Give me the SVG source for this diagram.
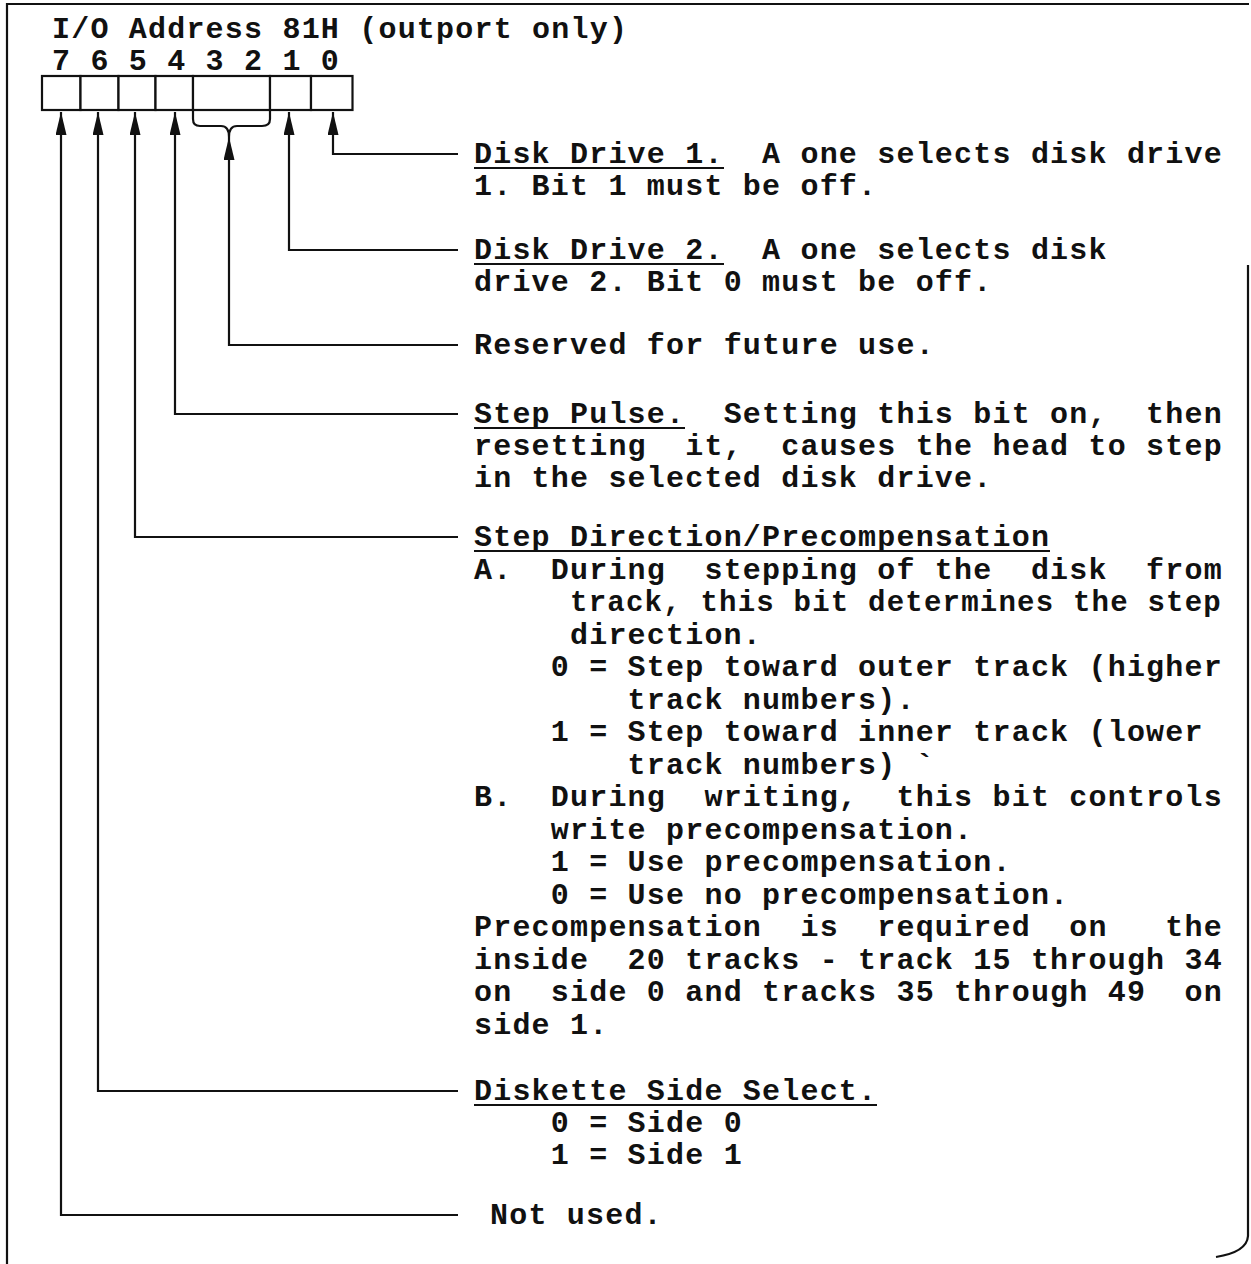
<svg xmlns="http://www.w3.org/2000/svg" width="1251" height="1264" viewBox="0 0 1251 1264">
<defs>
<style>
.t{font-family:"Liberation Mono","Courier New",monospace;font-size:30px;letter-spacing:1.2px;font-weight:bold;fill:#111;white-space:pre}
.ln{fill:none;stroke:#111;stroke-width:2.2}
.ul{stroke:#111;stroke-width:2}
.box{fill:#fff;stroke:#111;stroke-width:2.2}
</style>
<marker id="ah" viewBox="0 0 23 11" refX="23" refY="5.5" markerWidth="23" markerHeight="11" markerUnits="userSpaceOnUse" orient="auto-start-reverse">
<path d="M0,0 L23,5.5 L0,11 z" fill="#111"/>
</marker>
</defs>
<rect width="1251" height="1264" fill="#fff"/>
<g id="frame" class="ln">
<path d="M7,1264 V4 H1249"/>
<path d="M1248,265 V1236 Q1247,1252 1216,1257"/>
</g>
<g id="register">
<text class="t" x="52" y="38">I/O Address 81H (outport only)</text>
<text class="t" x="52" y="70">7 6 5 4 3 2 1 0</text>
<rect class="box" x="42" y="76" width="38.5" height="34"/>
<rect class="box" x="80.5" y="76" width="38" height="34"/>
<rect class="box" x="118.5" y="76" width="37" height="34"/>
<rect class="box" x="155.5" y="76" width="37.5" height="34"/>
<rect class="box" x="193" y="76" width="77" height="34"/>
<rect class="box" x="270" y="76" width="41" height="34"/>
<rect class="box" x="311" y="76" width="41.5" height="34"/>
<path class="ln" d="M193,110 V119 Q193,126 200,126 H221 Q229,126 229,137 Q229,126 237,126 H262 Q270,126 270,119 V110"/>
</g>
<g id="connectors" class="ln">
<path marker-start="url(#ah)" d="M333,112 V154 H458"/>
<path marker-start="url(#ah)" d="M289,112 V250 H458"/>
<path marker-start="url(#ah)" d="M229,137 V345 H458"/>
<path marker-start="url(#ah)" d="M175,112 V414 H458"/>
<path marker-start="url(#ah)" d="M135,112 V537 H458"/>
<path marker-start="url(#ah)" d="M98,112 V1091 H458"/>
<path marker-start="url(#ah)" d="M61,112 V1215 H458"/>
</g>
<g id="bit0">
<text class="t" x="474" y="163">Disk Drive 1.  A one selects disk drive</text>
<line class="ul" x1="474" y1="168" x2="724" y2="168"/>
<text class="t" x="474" y="195">1. Bit 1 must be off.</text>
</g>
<g id="bit1">
<text class="t" x="474" y="259">Disk Drive 2.  A one selects disk</text>
<line class="ul" x1="474" y1="264" x2="724" y2="264"/>
<text class="t" x="474" y="291">drive 2. Bit 0 must be off.</text>
</g>
<g id="bit32">
<text class="t" x="474" y="354">Reserved for future use.</text>
</g>
<g id="bit4">
<text class="t" x="474" y="423">Step Pulse.  Setting this bit on,  then</text>
<line class="ul" x1="474" y1="428" x2="685" y2="428"/>
<text class="t" x="474" y="455">resetting  it,  causes the head to step</text>
<text class="t" x="474" y="487">in the selected disk drive.</text>
</g>
<g id="bit5">
<text class="t" x="474" y="546">Step Direction/Precompensation</text>
<line class="ul" x1="474" y1="551" x2="1050" y2="551"/>
<text class="t" x="474" y="578.5">A.  During  stepping of the  disk  from</text>
<text class="t" x="570" y="611" textLength="652" lengthAdjust="spacingAndGlyphs">track, this bit determines the step</text>
<text class="t" x="570" y="643.5">direction.</text>
<text class="t" x="474" y="676">    0 = Step toward outer track (higher</text>
<text class="t" x="474" y="708.5">        track numbers).</text>
<text class="t" x="474" y="741">    1 = Step toward inner track (lower</text>
<text class="t" x="474" y="773.5">        track numbers) `</text>
<text class="t" x="474" y="806">B.  During  writing,  this bit controls</text>
<text class="t" x="474" y="838.5">    write precompensation.</text>
<text class="t" x="474" y="871">    1 = Use precompensation.</text>
<text class="t" x="474" y="903.5">    0 = Use no precompensation.</text>
<text class="t" x="474" y="936">Precompensation  is  required  on   the</text>
<text class="t" x="474" y="968.5">inside  20 tracks - track 15 through 34</text>
<text class="t" x="474" y="1001">on  side 0 and tracks 35 through 49  on</text>
<text class="t" x="474" y="1033.5">side 1.</text>
</g>
<g id="bit6">
<text class="t" x="474" y="1100">Diskette Side Select.</text>
<line class="ul" x1="474" y1="1105" x2="877" y2="1105"/>
<text class="t" x="474" y="1132">    0 = Side 0</text>
<text class="t" x="474" y="1164">    1 = Side 1</text>
</g>
<g id="bit7">
<text class="t" x="490" y="1224">Not used.</text>
</g>
</svg>
